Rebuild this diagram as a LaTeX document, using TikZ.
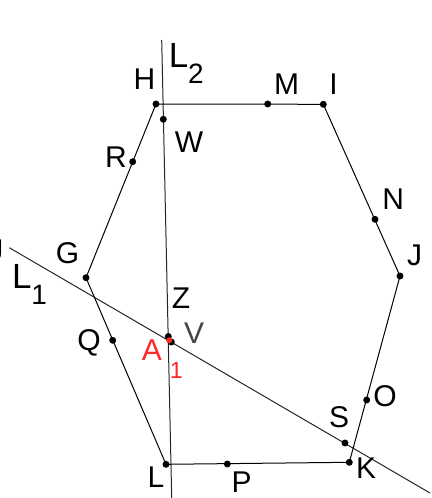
\documentclass[tikz,border=0pt]{standalone}
\usepackage{fontspec}
\setmainfont{Liberation Sans}
\definecolor{ptred}{RGB}{255,40,40}
\definecolor{vgray}{RGB}{68,68,68}
\begin{document}
\begin{tikzpicture}[x=0.75pt,y=-0.75pt,
  edge/.style={draw=black,line width=0.75pt},
  ln/.style={draw=black!85,line width=0.75pt},
  pt/.style={circle,fill=black,inner sep=0pt,minimum size=5.2pt},
  lab/.style={inner sep=0pt,font=\fontsize{22.5}{24}\selectfont},
  blab/.style={inner sep=0pt,anchor=base west,font=\fontsize{26.2}{28}\selectfont}]
\useasboundingbox (0,0) rectangle (431,498);
% polygon vertices
\coordinate (H) at (156,104);
\coordinate (I) at (323.3,104.3);
\coordinate (J) at (400,276);
\coordinate (K) at (349.3,462.3);
\coordinate (L) at (166,464.3);
\coordinate (G) at (86,277.7);
% lines
\coordinate (L2a) at (161.7,40);
\coordinate (L2b) at (171.7,498);
\coordinate (L1a) at (9.3,247.7);
\coordinate (L1b) at (430,493);
\draw[ln] (L2a) -- (L2b);
\draw[ln] (L1a) -- (L1b);
\draw[edge] (H) -- (I) -- (J) -- (K) -- (L) -- (G) -- cycle;
% points
\node[pt] (pH) at (H) {};
\node[pt] (pI) at (I) {};
\node[pt] (pJ) at (J) {};
\node[pt] (pK) at (K) {};
\node[pt] (pL) at (L) {};
\node[pt] (pG) at (G) {};
\node[pt] (pM) at (267.7,104) {};
\node[pt] (pN) at (375,219.3) {};
\node[pt] (pO) at (366.7,400) {};
\node[pt] (pP) at (227.3,464) {};
\node[pt] (pQ) at (112.7,340.3) {};
\node[pt] (pR) at (132.7,161.7) {};
\node[pt] (pS) at (345,443) {};
\node[pt] (pW) at (163.3,119.3) {};
\node[pt] (pV) at (171.3,342) {};
\node[pt] (pZ) at (168.3,336.5) {};
\node[circle,fill=ptred,inner sep=0pt,minimum size=4.6pt] (pA) at (169.3,340.3) {};
% labels
\node[lab] (tH) at (144.5,79) {H};
\node[lab] (tM) at (286.7,84.3) {M};
\node[lab] (tI) at (333.5,84) {I};
\node[lab] (tW) at (189,141.7) {W};
\node[lab] (tR) at (116,156.7) {R};
\node[lab] (tG) at (67.5,253.3) {G};
\node[lab] (tN) at (393.3,199) {N};
\node[lab] (tJ) at (414.7,255) {J};
\node[lab] (tJJ) at (-4,250) {J};
\node[lab] (tQ) at (89,342.5) {Q};
\node[lab] (tZ) at (181,298.3) {Z};
\node[lab,text=vgray] (tV) at (194,333.3) {V};
\node[lab] (tS) at (339,416.7) {S};
\node[lab] (tO) at (385,395.8) {O};
\node[lab] (tK) at (366,468.3) {K};
\node[lab] (tL) at (156,476.7) {L};
\node[lab] (tP) at (241.7,481.7) {P};
\node[blab] (tL2) at (168.5,67.3) {L\raisebox{-12pt}{\fontsize{21}{21}\selectfont 2}};
\node[blab] (tL1) at (11.8,288.3) {L\raisebox{-12.5pt}{\fontsize{21}{21}\selectfont 1}};
\node[inner sep=0pt,anchor=base west,text=ptred,font=\fontsize{22.5}{24}\selectfont] (tA) at (141.5,360) {A\hspace{6pt}\raisebox{-13.5pt}{\fontsize{17.5}{18}\selectfont 1}};
\end{tikzpicture}
\end{document}
